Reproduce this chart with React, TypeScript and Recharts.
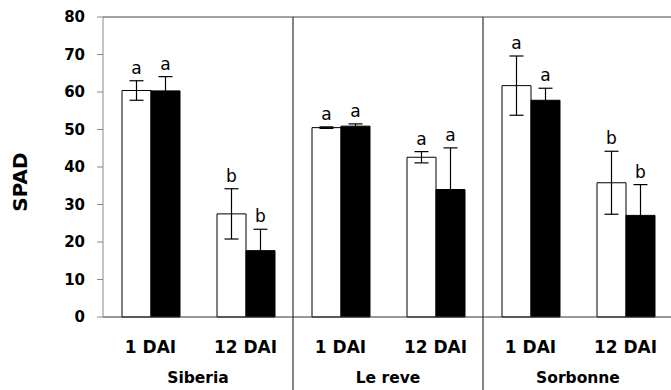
import { BarChart, Bar, XAxis, YAxis, ErrorBar, LabelList, ReferenceLine } from 'recharts'

const GROUPS = ['Siberia', 'Le reve', 'Sorbonne']
const TIMES = ['1 DAI', '12 DAI']
const Y_TICKS = [0, 10, 20, 30, 40, 50, 60, 70, 80]

// white bars
const CONTROL = [60.4, 27.5, 50.5, 42.6, 61.7, 35.8]
const CONTROL_ERR = [2.6, 6.7, 0.2, 1.5, 7.9, 8.4]
const CONTROL_LETTERS = ['a', 'b', 'a', 'a', 'a', 'b']

// black bars
const TREATED = [60.3, 17.7, 50.9, 34.0, 57.8, 27.1]
const TREATED_ERR = [3.8, 5.7, 0.6, 11.1, 3.2, 8.2]
const TREATED_LETTERS = ['a', 'b', 'a', 'a', 'a', 'b']

const W = 690
const H = 390
const M = { top: 17, right: 17, left: 0, bottom: 0 }
const Y_AXIS_W = 103
const X_AXIS_H = 73
const PLOT_TOP = M.top
const PLOT_BOTTOM = H - M.bottom - X_AXIS_H
const CAT_W = (W - M.right - M.left - Y_AXIS_W) / (GROUPS.length * TIMES.length)
const FONT = '"DejaVu Sans", sans-serif'

const data = GROUPS.flatMap((g, gi) =>
  TIMES.map((t, ti) => {
    const i = gi * TIMES.length + ti
    return {
      key: `${g}|${t}`,
      group: g,
      time: t,
      control: CONTROL[i],
      controlErr: CONTROL_ERR[i],
      treated: TREATED[i],
      treatedErr: TREATED_ERR[i],
    }
  })
)

function CategoryTick(props: any) {
  const { x, index } = props
  const d = data[index]
  if (!d) return null
  const lastInGroup = index % TIMES.length === TIMES.length - 1
  return (
    <g>
      <text x={x} y={PLOT_BOTTOM + 36} textAnchor="middle" fontFamily={FONT} fontWeight="bold" fontSize={17} fill="#000">
        {d.time}
      </text>
      {index % TIMES.length === 0 && (
        <text x={x + CAT_W / 2} y={PLOT_BOTTOM + 66} textAnchor="middle" fontFamily={FONT} fontWeight="bold" fontSize={15.5} fill="#000">
          {d.group}
        </text>
      )}
      {lastInGroup && (
        <line x1={x + CAT_W / 2} x2={x + CAT_W / 2} y1={PLOT_TOP} y2={H} stroke="#333" strokeWidth={1.2} />
      )}
    </g>
  )
}

function letterLabel(letters: string[], errs: number[]) {
  return (props: any) => {
    const { x, y, width, height, value, index } = props
    if (value == null) return null
    const pxPerUnit = height / value
    const top = y - errs[index] * pxPerUnit
    return (
      <text x={x + width / 2} y={top - 7} textAnchor="middle" fontFamily={FONT} fontSize={17} fill="#000">
        {letters[index]}
      </text>
    )
  }
}

export default function App() {
  return (
    <div style={{ position: 'fixed', top: 0, left: 0, width: 671, height: 390, overflow: 'hidden', background: '#fff' }}>
      <BarChart width={W} height={H} data={data} margin={M} barGap={0} barSize={29}>
        <XAxis
          dataKey="key"
          height={X_AXIS_H}
          tickLine={false}
          axisLine={{ stroke: '#333' }}
          tick={<CategoryTick />}
          interval={0}
        />
        <YAxis
          domain={[0, 80]}
          ticks={Y_TICKS}
          width={Y_AXIS_W}
          tickSize={6}
          tickMargin={12}
          axisLine={{ stroke: '#888' }}
          tickLine={{ stroke: '#888' }}
          tick={{ fill: '#000', fontSize: 15, fontWeight: 'bold', fontFamily: FONT }}
          label={(p: any) => (
            <text transform="translate(20,182) rotate(-90)" textAnchor="middle" dominantBaseline="central" fontFamily={FONT} fontWeight="bold" fontSize={20} fill="#000">
              SPAD
            </text>
          )}
        />
        <ReferenceLine y={80} stroke="#444" strokeWidth={1.2} />
        <Bar dataKey="control" fill="#fff" stroke="#000" strokeWidth={1} isAnimationActive={false}>
          <ErrorBar dataKey="controlErr" width={7} stroke="#000" strokeWidth={1.2} direction="y" />
          <LabelList dataKey="control" content={letterLabel(CONTROL_LETTERS, CONTROL_ERR)} />
        </Bar>
        <Bar dataKey="treated" fill="#000" stroke="#000" strokeWidth={1} isAnimationActive={false}>
          <ErrorBar dataKey="treatedErr" width={7} stroke="#000" strokeWidth={1.2} direction="y" />
          <LabelList dataKey="treated" content={letterLabel(TREATED_LETTERS, TREATED_ERR)} />
        </Bar>
      </BarChart>
    </div>
  )
}
